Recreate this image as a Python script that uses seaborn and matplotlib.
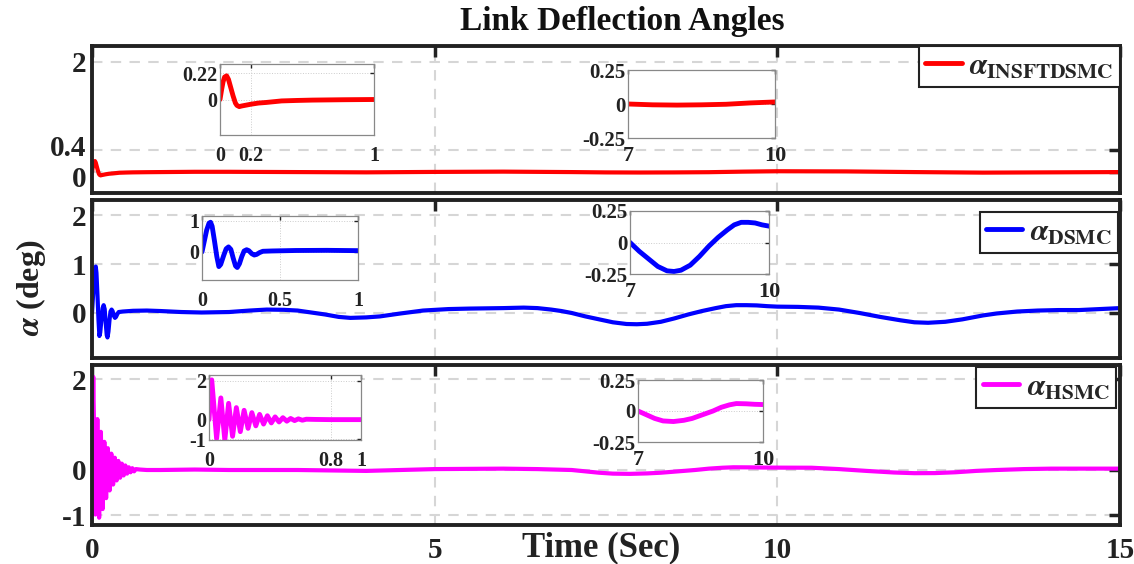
import matplotlib
matplotlib.use("Agg")
import matplotlib.pyplot as plt
import matplotlib.transforms as mtransforms
import seaborn as sns
import numpy as np

# ---------------- data ----------------
t_red = [0, 0.01, 0.02, 0.03, 0.043, 0.055, 0.07, 0.085, 0.1, 0.11, 0.125, 0.14, 0.16,
         0.2, 0.25, 0.3, 0.4, 0.5, 0.6, 0.8, 1.0, 1.5, 2, 3, 4, 5, 6, 7, 7.5, 8, 8.5,
         9, 9.5, 10, 11, 12, 13, 14, 15]
v_red = [0, 0.08, 0.15, 0.19, 0.2, 0.17, 0.1, 0.03, -0.03, -0.05, -0.06, -0.055, -0.05,
         -0.04, -0.03, -0.025, -0.012, -0.008, -0.005, -0.002, 0, 0.005, 0.005, 0, -0.005,
         0.003, 0.008, 0.0, -0.006, -0.008, -0.006, -0.002, 0.008, 0.015, 0.012, 0.0,
         -0.01, -0.005, 0.0]

t_blue = [0, 0.015, 0.03, 0.045, 0.055, 0.065, 0.08, 0.095, 0.108, 0.12, 0.14, 0.155,
          0.17, 0.185, 0.2, 0.215, 0.226, 0.24, 0.255, 0.27, 0.286, 0.3, 0.32, 0.335,
          0.35, 0.37, 0.39, 0.45, 0.6, 0.8, 1.0, 1.3, 1.6, 2.0, 2.3, 2.55, 2.8, 3.0, 3.2,
          3.4, 3.6, 3.77, 4.0, 4.2, 4.5, 4.83, 5.2, 5.5, 6.0, 6.3, 6.5, 6.7, 6.85, 7.0,
          7.2, 7.4, 7.6, 7.8, 7.95, 8.1, 8.3, 8.5, 8.7, 8.9, 9.1, 9.25, 9.4, 9.55, 9.7,
          9.85, 10.0, 10.3, 10.6, 10.9, 11.2, 11.5, 11.8, 12.0, 12.2, 12.45, 12.7, 13.0,
          13.2, 13.5, 13.8, 14.1, 14.4, 14.7, 15]
v_blue = [0, 0.35, 0.7, 0.92, 0.95, 0.82, 0.35, -0.15, -0.47, -0.4, -0.1, 0.1, 0.16,
          0.08, -0.2, -0.45, -0.5, -0.38, -0.15, 0.03, 0.07, 0.04, -0.06, -0.1, -0.08,
          -0.02, 0.02, 0.03, 0.045, 0.05, 0.04, 0.02, 0.01, 0.02, 0.05, 0.07, 0.065, 0.05,
          0.01, -0.03, -0.08, -0.1, -0.09, -0.07, -0.01, 0.05, 0.08, 0.09, 0.1, 0.11,
          0.1, 0.07, 0.04, 0.0, -0.07, -0.13, -0.19, -0.225, -0.23, -0.22, -0.18, -0.11,
          -0.03, 0.04, 0.1, 0.14, 0.16, 0.16, 0.155, 0.14, 0.13, 0.125, 0.11, 0.07, 0.0,
          -0.08, -0.15, -0.19, -0.2, -0.18, -0.13, -0.05, -0.01, 0.03, 0.05, 0.06, 0.06,
          0.08, 0.1]

t_mag = [0, 0.018, 0.05, 0.078, 0.104, 0.129, 0.155, 0.18, 0.206, 0.231, 0.257, 0.282,
         0.308, 0.333, 0.359, 0.384, 0.41, 0.435, 0.461, 0.486, 0.512, 0.537, 0.563,
         0.588, 0.614, 0.64, 0.7, 0.8, 1.0, 1.5, 2, 3, 4, 5, 6, 6.5, 7, 7.2, 7.4, 7.6,
         7.85, 8.1, 8.3, 8.55, 8.8, 9.0, 9.2, 9.36, 9.6, 9.8, 10, 10.5, 10.9, 11.3, 11.7,
         12, 12.3, 12.6, 12.9, 13.2, 13.6, 14, 15]
v_mag = [0, 2.05, -0.98, 1.12, -1.05, 0.84, -0.86, 0.62, -0.62, 0.48, -0.45, 0.36,
         -0.32, 0.27, -0.23, 0.2, -0.17, 0.14, -0.12, 0.1, -0.08, 0.06, -0.05, 0.04,
         -0.03, 0.02, 0.01, 0.0, 0.0, 0.01, 0.0, 0.0, -0.02, 0.02, 0.03, 0.02, 0.0,
         -0.03, -0.06, -0.08, -0.085, -0.075, -0.06, -0.03, 0.0, 0.03, 0.05, 0.06, 0.058,
         0.054, 0.052, 0.05, 0.02, -0.02, -0.055, -0.07, -0.068, -0.05, -0.02, 0.0, 0.02,
         0.03, 0.03]

series = [
    dict(t=t_red, v=v_red, color="#ff0000", label=r"$\alpha_{\mathbf{INSFTDSMC}}$"),
    dict(t=t_blue, v=v_blue, color="#0000ff", label=r"$\alpha_{\mathbf{DSMC}}$"),
    dict(t=t_mag, v=v_mag, color="#ff00ff", label=r"$\alpha_{\mathbf{HSMC}}$"),
]

main_yticks = [[0, 0.4, 2], [0, 1, 2], [-1, 0, 2]]
main_ytlabels = [["0", "0.4", "2"], ["0", "1", "2"], ["-1", "0", "2"]]
main_ylims = [(-0.38, 2.29), (-0.92, 2.31), (-1.21, 2.31)]
x_ticks = [0, 5, 10, 15]
x_tlabels = ["0", "5", "10", "15"]

inset_l_xticks = [[0, 0.2, 1], [0, 0.5, 1], [0, 0.8, 1]]
inset_l_xtl = [["0", "0.2", "1"], ["0", "0.5", "1"], ["0", "0.8", "1"]]
inset_l_yticks = [[0, 0.22], [0, 1], [-1, 0, 2]]
inset_l_ytl = [["0", "0.22"], ["0", "1"], ["-1", "0", "2"]]
inset_l_ylims = [(-0.3, 0.3), (-0.9, 1.15), (-1.05, 2.3)]
inset_r_yticks = [-0.25, 0, 0.25]
inset_r_ytl = ["-0.25", "0", "0.25"]

# ---------------- style ----------------
sns.set_theme(style="white")
plt.rcParams["font.family"] = ["Liberation Serif", "DejaVu Serif"]
plt.rcParams["font.weight"] = "bold"
plt.rcParams["mathtext.fontset"] = "stix"

W, H = 1134, 564
fig = plt.figure(figsize=(W / 100, H / 100), dpi=100)

def fr(x0, y0, x1, y1):
    return [x0 / W, 1 - y1 / H, (x1 - x0) / W, (y1 - y0) / H]

main_boxes = [fr(92, 46, 1120, 193), fr(92, 200, 1120, 358), fr(92, 365, 1120, 525)]
inset_l_boxes = [fr(220, 64, 374, 135), fr(202, 216, 358, 280), fr(209, 375, 361, 440)]
inset_r_boxes = [fr(628, 70, 775, 138), fr(630, 211, 769, 274), fr(638, 380, 763, 442)]
legend_anchor = [(1.0, 1.0), (0.998, 0.924), (0.996, 0.99)]

for i, s in enumerate(series):
    ax = fig.add_axes(main_boxes[i])
    sns.lineplot(x=s["t"], y=s["v"], ax=ax, color=s["color"], lw=3.0,
                 label=s["label"], estimator=None, sort=False)
    ax.set_xlim(0, 15)
    ax.set_ylim(*main_ylims[i])
    ax.set_xticks(x_ticks)
    ax.set_yticks(main_yticks[i])
    ax.set_yticklabels(main_ytlabels[i], fontsize=21, fontweight="bold")
    if i == 2:
        ax.set_xticklabels(x_tlabels, fontsize=21, fontweight="bold")
    else:
        ax.set_xticklabels([])
    ax.tick_params(direction="in", length=8, width=2.5, top=True, right=True,
                   colors="#222222", pad=4)
    ax.tick_params(axis="x", pad=9)
    ax.grid(True, ls=(0, (5, 4)), color="#d6d6d6", lw=1.5)
    for sp in ax.spines.values():
        sp.set_color("#222222")
        sp.set_linewidth(2.8)
    if i == 0:
        # the 0 and 0.4 labels sit very close: nudge them apart slightly
        labs = ax.get_yticklabels()
        labs[0].set_transform(labs[0].get_transform() +
                              mtransforms.ScaledTranslation(0, -3 / 72, fig.dpi_scale_trans))
        labs[1].set_transform(labs[1].get_transform() +
                              mtransforms.ScaledTranslation(0, 3 / 72, fig.dpi_scale_trans))
    leg = ax.legend(loc="upper right", bbox_to_anchor=legend_anchor[i],
                    borderaxespad=0, fontsize=22, frameon=True, fancybox=False,
                    handlelength=1.2, handletextpad=0.25, borderpad=0.2,
                    framealpha=1)
    leg.get_frame().set_edgecolor("#222222")
    leg.get_frame().set_linewidth(1.5)
    for ln in leg.get_lines():
        ln.set_linewidth(3.5)

    # left inset (early transient)
    axl = fig.add_axes(inset_l_boxes[i], zorder=5)
    sns.lineplot(x=s["t"], y=s["v"], ax=axl, color=s["color"], lw=3.5,
                 estimator=None, sort=False, legend=False)
    axl.set_xlim(0, 1)
    axl.set_ylim(*inset_l_ylims[i])
    axl.set_xticks(inset_l_xticks[i])
    axl.set_xticklabels(inset_l_xtl[i], fontsize=14.5, fontweight="bold")
    axl.set_yticks(inset_l_yticks[i])
    axl.set_yticklabels(inset_l_ytl[i], fontsize=14.5, fontweight="bold")
    axl.tick_params(direction="in", length=3, width=1, top=True, right=True,
                    colors="#222222", pad=2)
    axl.tick_params(axis="x", pad=8)
    axl.grid(True, ls=":", color="#cccccc", lw=0.7)
    for sp in axl.spines.values():
        sp.set_color("#888888")
        sp.set_linewidth(0.9)

    # right inset (7-10 s)
    axr = fig.add_axes(inset_r_boxes[i], zorder=5)
    sns.lineplot(x=s["t"], y=s["v"], ax=axr, color=s["color"], lw=3.5,
                 estimator=None, sort=False, legend=False)
    axr.set_xlim(7, 10)
    axr.set_ylim(-0.25, 0.25)
    axr.set_xticks([7, 10])
    axr.set_xticklabels(["7", "10"], fontsize=16, fontweight="bold")
    axr.set_yticks(inset_r_yticks)
    axr.set_yticklabels(inset_r_ytl, fontsize=15, fontweight="bold")
    axr.tick_params(direction="in", length=3, width=1, top=True, right=True,
                    colors="#222222", pad=2)
    axr.tick_params(axis="x", pad=6)
    axr.grid(True, ls=":", color="#cccccc", lw=0.7)
    for sp in axr.spines.values():
        sp.set_color("#888888")
        sp.set_linewidth(0.9)

fig.text(0.549, 0.961, "Link Deflection Angles", ha="center", va="center",
         fontsize=24, fontweight="bold", color="#111111")
fig.text(0.530, 0.028, "Time (Sec)", ha="center", va="center",
         fontsize=25, fontweight="bold", color="#222222")
fig.text(0.027, 0.49, r"$\alpha$ (deg)", ha="center", va="center", rotation=90,
         fontsize=23, fontweight="bold", color="#222222")

fig.savefig("out.png", dpi=100)
